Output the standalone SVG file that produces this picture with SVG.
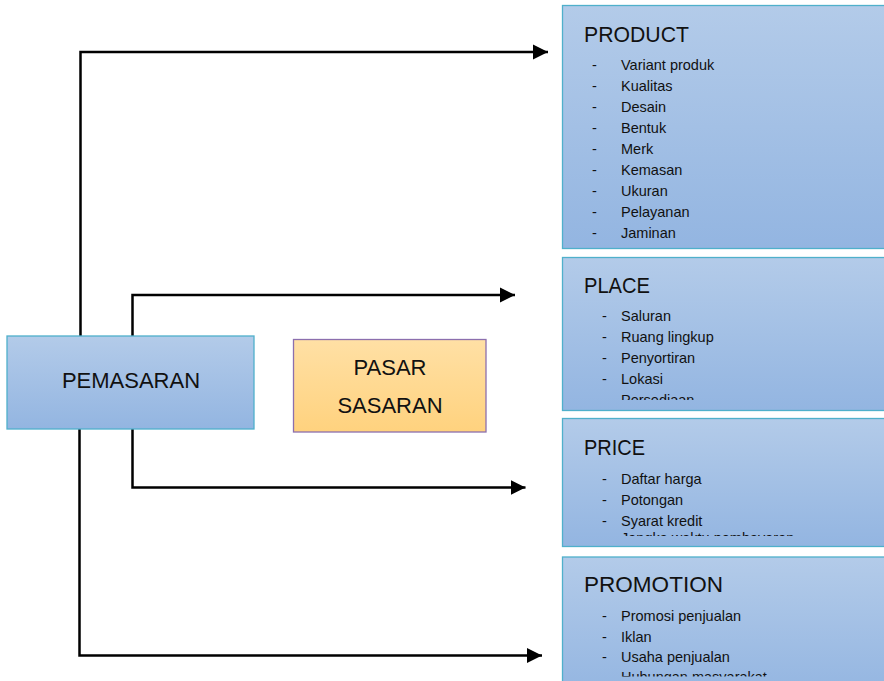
<svg xmlns="http://www.w3.org/2000/svg" width="884" height="681" viewBox="0 0 884 681">
<style>
.box{fill:url(#blue);stroke:#4fb0cb;stroke-width:1.3}
.tgt{fill:url(#orange);stroke:#8c6fae;stroke-width:1.3}
.t{font-family:"Liberation Sans",Arial,sans-serif;fill:#111}
.title{font-size:21.5px}
.main{font-size:22px;text-anchor:middle}
.item{font-size:14.5px}
.con{fill:none;stroke:#000;stroke-width:2.5;stroke-linejoin:miter}
</style>
<defs>
<linearGradient id="blue" x1="0" y1="0" x2="0" y2="1">
<stop offset="0" stop-color="#b3cbe9"/>
<stop offset="1" stop-color="#93b5e1"/>
</linearGradient>
<linearGradient id="orange" x1="0" y1="0" x2="0" y2="1">
<stop offset="0" stop-color="#ffe0a5"/>
<stop offset="1" stop-color="#ffd27e"/>
</linearGradient>
<marker id="arr" markerUnits="userSpaceOnUse" markerWidth="16" markerHeight="16" refX="15" refY="8" orient="auto" viewBox="0 0 16 16">
<path d="M0,0.5 L15,8 L0,15.5 Z" fill="#000"/>
</marker>
<clipPath id="cPlace"><rect x="562" y="257" width="330" height="143"/></clipPath>
<clipPath id="cPrice"><rect x="562" y="418" width="330" height="118"/></clipPath>
<clipPath id="cPromo"><rect x="562" y="557" width="330" height="119.5"/></clipPath>
</defs>

<g id="connectors">
<path class="con" d="M80.5,336 V52 H548" marker-end="url(#arr)"/>
<path class="con" d="M132.5,336 V295 H515" marker-end="url(#arr)"/>
<path class="con" d="M132.5,429 V487.5 H525.5" marker-end="url(#arr)"/>
<path class="con" d="M79.5,429 V655.5 H542" marker-end="url(#arr)"/>
</g>

<g id="pemasaran">
<rect class="box" x="7" y="336" width="247" height="93"/>
<text class="t main" x="131" y="388">PEMASARAN</text>
</g>

<g id="pasar-sasaran">
<rect class="tgt" x="293.5" y="339.5" width="192.5" height="92.5"/>
<text class="t main" x="390" y="375">PASAR</text>
<text class="t main" x="390" y="412.5">SASARAN</text>
</g>

<g id="product">
<rect class="box" x="562.5" y="5.5" width="330" height="243"/>
<text class="t title" x="584" y="42" textLength="105" lengthAdjust="spacingAndGlyphs">PRODUCT</text>
<g class="t item">
<text x="592" y="70">-</text><text x="621" y="70">Variant produk</text>
<text x="592" y="91">-</text><text x="621" y="91">Kualitas</text>
<text x="592" y="112">-</text><text x="621" y="112">Desain</text>
<text x="592" y="133">-</text><text x="621" y="133">Bentuk</text>
<text x="592" y="154">-</text><text x="621" y="154">Merk</text>
<text x="592" y="175">-</text><text x="621" y="175">Kemasan</text>
<text x="592" y="196">-</text><text x="621" y="196">Ukuran</text>
<text x="592" y="217">-</text><text x="621" y="217">Pelayanan</text>
<text x="592" y="237.5">-</text><text x="621" y="237.5">Jaminan</text>
</g>
</g>

<g id="place">
<rect class="box" x="562.5" y="257.5" width="330" height="153"/>
<text class="t title" x="584" y="293" textLength="66" lengthAdjust="spacingAndGlyphs">PLACE</text>
<g class="t item" clip-path="url(#cPlace)">
<text x="602" y="321">-</text><text x="621" y="321">Saluran</text>
<text x="602" y="342">-</text><text x="621" y="342">Ruang lingkup</text>
<text x="602" y="363">-</text><text x="621" y="363">Penyortiran</text>
<text x="602" y="384">-</text><text x="621" y="384">Lokasi</text>
<text x="602" y="405">-</text><text x="621" y="405">Persediaan</text>
</g>
</g>

<g id="price">
<rect class="box" x="562.5" y="418.5" width="330" height="128"/>
<text class="t title" x="584" y="455" textLength="61" lengthAdjust="spacingAndGlyphs">PRICE</text>
<g class="t item" clip-path="url(#cPrice)">
<text x="602" y="483.5">-</text><text x="621" y="483.5">Daftar harga</text>
<text x="602" y="504.5">-</text><text x="621" y="504.5">Potongan</text>
<text x="602" y="525.5">-</text><text x="621" y="525.5">Syarat kredit</text>
<text x="592" y="542.5">-</text><text x="621" y="542.5">Jangka waktu pembayaran</text>
</g>
</g>

<g id="promotion">
<rect class="box" x="562.5" y="557" width="330" height="140"/>
<text class="t title" x="584" y="592" textLength="139" lengthAdjust="spacingAndGlyphs">PROMOTION</text>
<g class="t item" clip-path="url(#cPromo)">
<text x="602" y="620.5">-</text><text x="621" y="620.5">Promosi penjualan</text>
<text x="602" y="641.5">-</text><text x="621" y="641.5">Iklan</text>
<text x="602" y="662">-</text><text x="621" y="662">Usaha penjualan</text>
<text x="602" y="682">-</text><text x="621" y="682">Hubungan masyarakat</text>
</g>
</g>
</svg>
